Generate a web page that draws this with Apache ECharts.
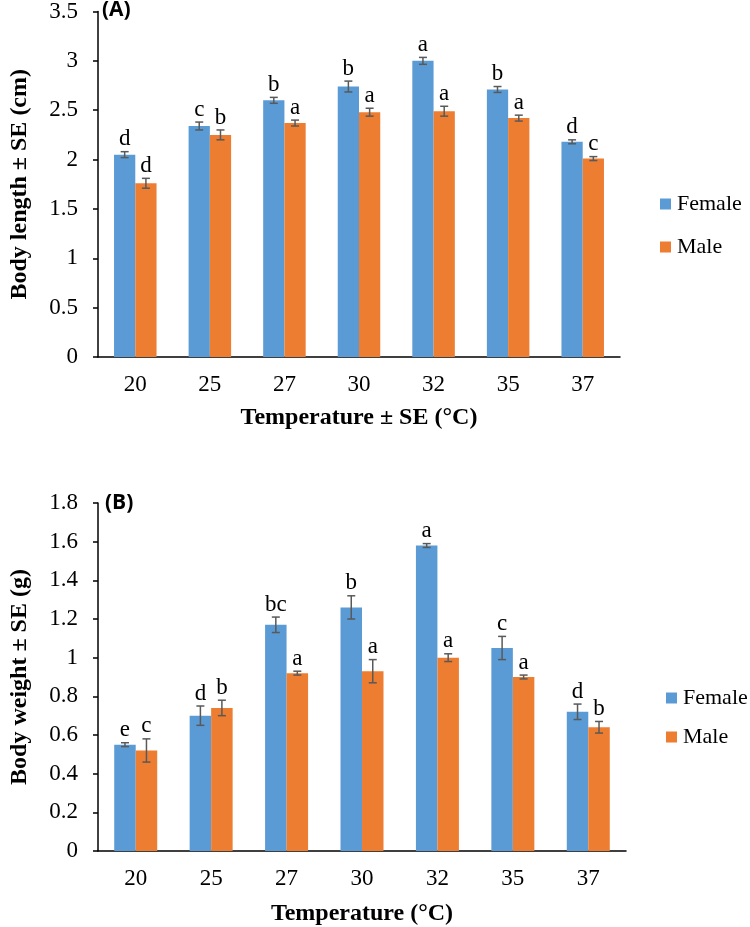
<!DOCTYPE html>
<html>
<head>
<meta charset="utf-8">
<script src="https://cdn.jsdelivr.net/npm/echarts@6/dist/echarts.min.js"></script>
<style>html,body{margin:0;padding:0;background:#fff}#c{width:750px;height:927px}</style>
</head>
<body>
<div id="c"></div>
<script>
const categories = ['20','25','27','30','32','35','37'];
const lengthFemale = [2.05,2.34,2.60,2.74,3.00,2.71,2.18];
const lengthFemaleSE = [0.03,0.04,0.03,0.055,0.035,0.03,0.02];
const lengthMale = [1.76,2.25,2.37,2.48,2.49,2.42,2.01];
const lengthMaleSE = [0.05,0.05,0.03,0.04,0.05,0.03,0.02];
const lengthFemaleLetters = ['d','c','b','b','a','b','d'];
const lengthMaleLetters = ['d','b','a','a','a','a','c'];
const weightFemale = [0.55,0.70,1.17,1.26,1.58,1.05,0.72];
const weightFemaleSE = [0.01,0.05,0.04,0.06,0.01,0.06,0.04];
const weightMale = [0.52,0.74,0.92,0.93,1.00,0.90,0.64];
const weightMaleSE = [0.06,0.04,0.01,0.06,0.02,0.01,0.03];
const weightFemaleLetters = ['e','d','bc','b','a','c','d'];
const weightMaleLetters = ['c','b','a','a','a','a','b'];

const BLUE = '#5B9BD5', ORANGE = '#ED7D31';
const SERIF = '"Liberation Serif","Times New Roman",serif';
const GAP = 0.43;

function errSeries(axisIdx, vals, ses, letters, side) {
  return {
    type: 'custom', xAxisIndex: axisIdx, yAxisIndex: axisIdx, z: 5,
    data: vals.map((v, i) => [i, v, ses[i]]),
    encode: {x: 0, y: 1},
    renderItem: function (params, api) {
      const ci = api.value(0), v = api.value(1), se = api.value(2);
      const band = api.size([1, 0])[0];
      const bw = band * (1 - GAP) / 2;
      const c = api.coord([ci, v]);
      const x = c[0] + side * bw / 2;
      const yt = api.coord([ci, v + se])[1];
      const yb = api.coord([ci, v - se])[1];
      const st = {stroke: '#595959', lineWidth: 1.5};
      return {type: 'group', children: [
        {type: 'line', shape: {x1: x, y1: yt, x2: x, y2: yb}, style: st},
        {type: 'line', shape: {x1: x - 4, y1: yt, x2: x + 4, y2: yt}, style: st},
        {type: 'line', shape: {x1: x - 4, y1: yb, x2: x + 4, y2: yb}, style: st},
        {type: 'text', style: {text: letters[params.dataIndex], x: x, y: yt - 1,
          align: 'center', verticalAlign: 'bottom', font: '23px ' + SERIF, fill: '#000'}}
      ]};
    }
  };
}

function xAx(gi, name, gap) {
  return {
    type: 'category', gridIndex: gi, data: categories,
    name: name, nameLocation: 'middle', nameGap: gap,
    nameTextStyle: {fontFamily: SERIF, fontSize: 24, fontWeight: 'bold', color: '#000'},
    axisLine: {lineStyle: {color: '#000', width: 1.5}},
    axisTick: {length: 6, lineStyle: {color: '#000', width: 1.5}},
    axisLabel: {fontFamily: SERIF, fontSize: 23, color: '#000', margin: 16}
  };
}
function yAx(gi, name, max, interval) {
  return {
    type: 'value', gridIndex: gi, min: 0, max: max, interval: interval,
    name: name, nameLocation: 'middle', nameGap: 66, nameRotate: 90,
    nameTextStyle: {fontFamily: SERIF, fontSize: 24, fontWeight: 'bold', color: '#000'},
    axisLine: {show: true, lineStyle: {color: '#000', width: 1.5}},
    axisTick: {show: true, length: 5, lineStyle: {color: '#000', width: 1.5}},
    axisLabel: {fontFamily: SERIF, fontSize: 23, color: '#000', margin: 20},
    splitLine: {show: false}
  };
}

const chart = echarts.init(document.getElementById('c'));
chart.setOption({
  animation: false,
  backgroundColor: '#fff',
  grid: [
    {left: 90, top: 10, width: 530, height: 347},
    {left: 90, top: 503, width: 536, height: 348}
  ],
  xAxis: [xAx(0, 'Temperature ± SE (°C)', 49), xAx(1, 'Temperature (°C)', 51)],
  yAxis: [yAx(0, 'Body length ± SE (cm)', 3.5, 0.5), yAx(1, 'Body weight ± SE (g)', 1.8, 0.2)],
  legend: [
    {data: ['Female', 'Male'], orient: 'vertical', left: 655, top: 188, icon: 'rect',
     itemWidth: 11, itemHeight: 11, itemGap: 21,
     textStyle: {fontFamily: SERIF, fontSize: 22, lineHeight: 22, color: '#000', padding: [0, 0, 0, 1]}},
    {data: ['Female', 'Male'], orient: 'vertical', left: 661, top: 682, icon: 'rect',
     itemWidth: 11, itemHeight: 11, itemGap: 17,
     textStyle: {fontFamily: SERIF, fontSize: 22, lineHeight: 22, color: '#000', padding: [0, 0, 0, 1]}}
  ],
  graphic: [
    {type: 'text', left: 102, top: 0, style: {text: '(A)', font: 'bold 21px "Open Sans", sans-serif', fill: '#000'}},
    {type: 'text', left: 105, top: 493, style: {text: '(B)', font: 'bold 21px "Open Sans", sans-serif', fill: '#000'}}
  ],
  series: [
    {name: 'Female', type: 'bar', xAxisIndex: 0, yAxisIndex: 0, data: lengthFemale,
     itemStyle: {color: BLUE}, barGap: 0, barCategoryGap: (GAP * 100) + '%'},
    {name: 'Male', type: 'bar', xAxisIndex: 0, yAxisIndex: 0, data: lengthMale,
     itemStyle: {color: ORANGE}, barGap: 0, barCategoryGap: (GAP * 100) + '%'},
    {name: 'Female', type: 'bar', xAxisIndex: 1, yAxisIndex: 1, data: weightFemale,
     itemStyle: {color: BLUE}, barGap: 0, barCategoryGap: (GAP * 100) + '%'},
    {name: 'Male', type: 'bar', xAxisIndex: 1, yAxisIndex: 1, data: weightMale,
     itemStyle: {color: ORANGE}, barGap: 0, barCategoryGap: (GAP * 100) + '%'},
    errSeries(0, lengthFemale, lengthFemaleSE, lengthFemaleLetters, -1),
    errSeries(0, lengthMale, lengthMaleSE, lengthMaleLetters, 1),
    errSeries(1, weightFemale, weightFemaleSE, weightFemaleLetters, -1),
    errSeries(1, weightMale, weightMaleSE, weightMaleLetters, 1)
  ]
});
</script>
</body>
</html>
